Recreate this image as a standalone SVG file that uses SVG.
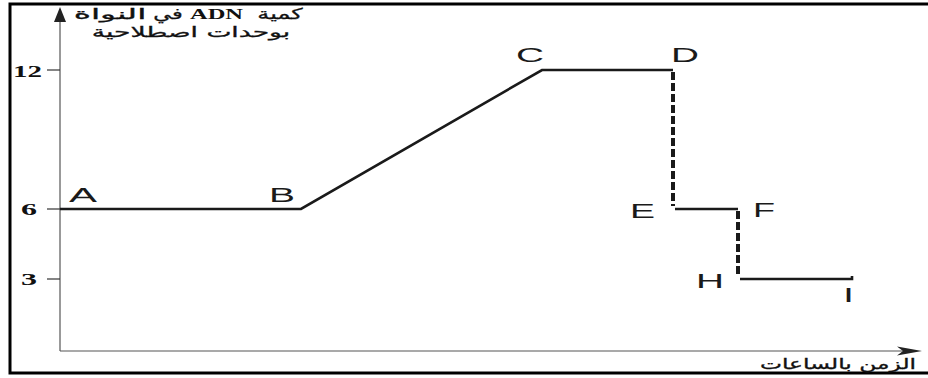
<svg xmlns="http://www.w3.org/2000/svg" width="928" height="378" viewBox="0 0 928 378">
  <style>
    .axis { stroke: #555; stroke-width: 1.2; fill: none; }
    .tick { stroke: #333; stroke-width: 1.2; }
    .curve { stroke: #1a1a1a; stroke-width: 2.6; fill: none; stroke-linejoin: miter; }
    .dash { stroke: #1a1a1a; stroke-width: 4; fill: none; stroke-dasharray: 8 3; }
    .pt { font-family: "Liberation Sans", Arial, sans-serif; font-size: 20px; fill: #1a1a1a; }
    .num { font-family: "Liberation Serif", "Times New Roman", serif; font-size: 17px; font-weight: bold; fill: #111; }
    .ar { font-family: "DejaVu Sans", "Noto Sans", sans-serif; font-size: 15px; fill: #111; stroke: #111; stroke-width: 0.3; text-anchor: middle; }
    .lat { font-family: "Liberation Serif", "Times New Roman", serif; font-size: 14px; font-weight: bold; fill: #111; }
  </style>
  <rect x="0" y="0" width="928" height="378" fill="#fff"/>
  <rect x="10" y="4" width="930" height="369" fill="none" stroke="#000" stroke-width="3"/>

  <g id="axes">
    <line class="axis" x1="60" y1="351" x2="60" y2="18"/>
    <polygon points="60,7 54,22 66,22" fill="#222"/>
    <line class="axis" x1="60" y1="351" x2="905" y2="351"/>
    <polygon points="922,351 897,346.5 903,351 897,355.5" fill="#222"/>
    <line class="tick" x1="47" y1="70" x2="60" y2="70"/>
    <line class="tick" x1="47" y1="209" x2="60" y2="209"/>
    <line class="tick" x1="47" y1="279" x2="60" y2="279"/>
    <text class="num" x="13" y="77" textLength="29" lengthAdjust="spacingAndGlyphs">12</text>
    <text class="num" x="21" y="215" textLength="16" lengthAdjust="spacingAndGlyphs">6</text>
    <text class="num" x="21" y="285" textLength="16" lengthAdjust="spacingAndGlyphs">3</text>
  </g>

  <g id="title">
    <text class="ar" transform="translate(110,19) scale(2.2,1)" stroke-width="0">النواة</text>
    <text class="ar" transform="translate(168,19) scale(1.5,1)">في</text>
    <text class="lat" x="190" y="19" textLength="53" lengthAdjust="spacingAndGlyphs">ADN</text>
    <text class="ar" transform="translate(280,19) scale(1.6,1)">كمية</text>
    <text class="ar" transform="translate(191,37) scale(1.77,1)">بوحدات اصطلاحية</text>
  </g>
  <g id="x-label">
    <text class="ar" transform="translate(838,369) scale(1.56,1)">الزمن بالساعات</text>
  </g>

  <g id="connectors">
    <polyline class="curve" points="60,209 301,209 542,70 673,70"/>
    <line class="dash" x1="673" y1="72" x2="673" y2="206"/>
    <line class="curve" x1="675" y1="209" x2="738" y2="209"/>
    <line class="dash" x1="738" y1="211" x2="738" y2="277"/>
    <polyline class="curve" points="740,279 852,279 852,276"/>
  </g>

  <g id="node-A"><text class="pt" x="69" y="202" textLength="28" lengthAdjust="spacingAndGlyphs">A</text></g>
  <g id="node-B"><text class="pt" x="269" y="202" textLength="26" lengthAdjust="spacingAndGlyphs">B</text></g>
  <g id="node-C"><text class="pt" x="516" y="62" textLength="28" lengthAdjust="spacingAndGlyphs">C</text></g>
  <g id="node-D"><text class="pt" x="671" y="62" textLength="28" lengthAdjust="spacingAndGlyphs">D</text></g>
  <g id="node-E"><text class="pt" x="630" y="218" textLength="25" lengthAdjust="spacingAndGlyphs">E</text></g>
  <g id="node-F"><text class="pt" x="753" y="217" textLength="22" lengthAdjust="spacingAndGlyphs">F</text></g>
  <g id="node-H"><text class="pt" x="696" y="288" textLength="28" lengthAdjust="spacingAndGlyphs">H</text></g>
  <g id="node-I"><text class="pt" x="845" y="302" textLength="7" lengthAdjust="spacingAndGlyphs" font-weight="bold">I</text></g>
</svg>
